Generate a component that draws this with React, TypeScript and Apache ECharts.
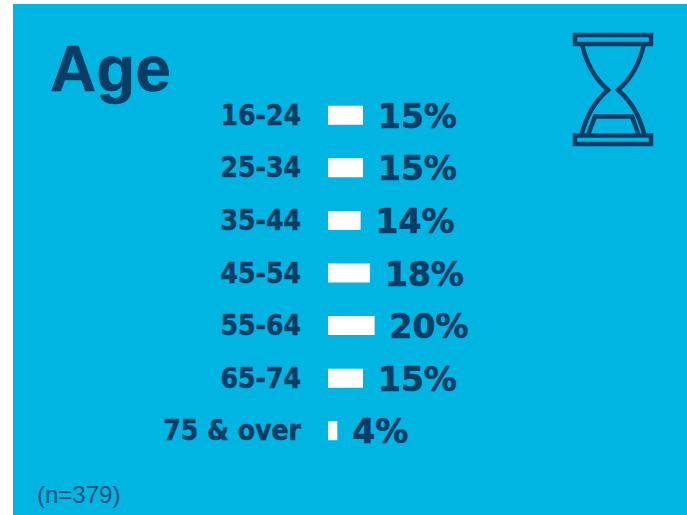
import React, { useEffect, useRef } from "react";
import * as echarts from "echarts";

const categories = ["16-24", "25-34", "35-44", "45-54", "55-64", "65-74", "75 & over"];
const values = [15, 15, 14, 18, 20, 15, 4];
const titleText = "Age";
const noteText = "(n=379)";
const hourglassPath =
  "M575 35H651V44H575Z M575 135.5H651V144H575Z " +
  "M582 44C586 62 595 79 608 90C595 101 586 117 581.5 135 " +
  "M644 44C640 62 631 79 618 90C631 101 640 117 644.5 135 " +
  "M588 135L595 116.5H632L638.5 135";

const DARK = "#0a3d66";
const BG = "#00b5e2";

echarts.graphic.registerShape("hourglass", echarts.graphic.extendPath(hourglassPath, {}));

export default function App() {
  const ref = useRef<HTMLDivElement>(null);
  useEffect(() => {
    document.body.style.margin = "0";
    const chart = echarts.init(ref.current!, null, { renderer: "svg" });
    chart.setOption({
      animation: false,
      backgroundColor: "#ffffff",
      grid: { left: 328, top: 89, width: 233, height: 368, containLabel: false },
      xAxis: { type: "value", min: 0, max: 100, show: false },
      yAxis: {
        type: "category",
        inverse: true,
        data: categories,
        axisLine: { show: false },
        axisTick: { show: false },
        axisLabel: {
          margin: 27,
          fontFamily: "'DejaVu Sans Condensed', 'DejaVu Sans'",
          fontWeight: "bold",
          fontSize: 28,
          color: DARK,
          textBorderColor: DARK,
          textBorderWidth: 0.5,
        },
      },
      series: [
        {
          type: "bar",
          data: values,
          barWidth: 19,
          itemStyle: { color: "#ffffff" },
          label: {
            show: true,
            position: "right",
            distance: 15,
            offset: [0, 1],
            formatter: "{c}%",
            fontFamily: "DejaVu Sans",
            fontWeight: "bold",
            fontSize: 33,
            color: DARK,
            textBorderColor: DARK,
            textBorderWidth: 0.6,
          },
        },
      ],
      graphic: [
        { type: "rect", z: -10, shape: { x: 13, y: 4, width: 674, height: 511 }, style: { fill: BG } },
        {
          type: "text",
          x: 50,
          y: 37,
          style: {
            text: titleText,
            fontFamily: "Liberation Sans",
            fontWeight: "bold",
            fontSize: 64,
            fill: DARK,
            stroke: DARK,
            lineWidth: 0.5,
          },
        },
        {
          type: "text",
          x: 37,
          y: 482,
          style: { text: noteText, fontFamily: "Liberation Sans", fontSize: 24, fill: "#0e4f7d" },
        },
        {
          type: "hourglass",
          x: 0,
          y: 0,
          style: { fill: "none", stroke: DARK, lineWidth: 4.5 },
        },
      ],
    });
    return () => chart.dispose();
  }, []);
  return <div ref={ref} style={{ width: 687, height: 515 }} />;
}
